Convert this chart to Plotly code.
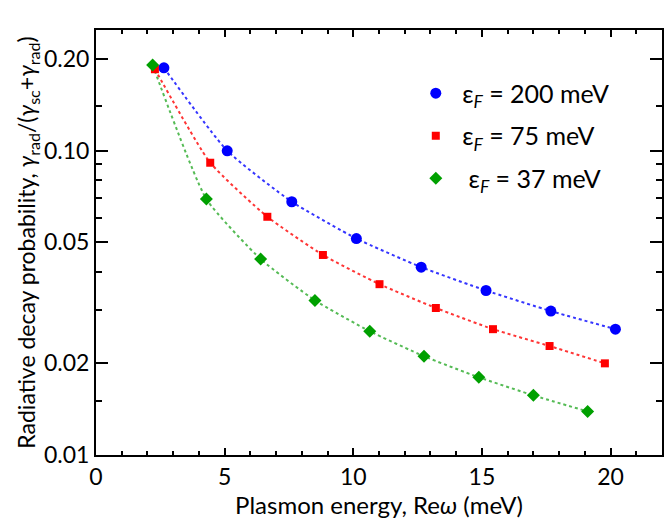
import plotly.graph_objects as go

# Data
x_200 = [2.64, 5.10, 7.61, 10.12, 12.64, 15.16, 17.68, 20.19]
y_200 = [0.187, 0.0998, 0.0679, 0.0514, 0.0414, 0.0347, 0.0297, 0.0259]

x_75 = [2.29, 4.44, 6.66, 8.82, 11.02, 13.21, 15.43, 17.63, 19.78]
y_75 = [0.185, 0.0912, 0.0606, 0.0454, 0.0364, 0.0304, 0.0259, 0.0228, 0.0200]

x_37 = [2.20, 4.29, 6.40, 8.51, 10.64, 12.75, 14.88, 17.00, 19.11]
y_37 = [0.191, 0.0693, 0.0440, 0.0322, 0.0255, 0.0211, 0.0180, 0.0157, 0.0139]

names = [" ε<sub><i>F</i></sub> = 200 meV", " ε<sub><i>F</i></sub> = 75 meV", "  ε<sub><i>F</i></sub> = 37 meV"]

y_tickvals = [0.01, 0.02, 0.05, 0.10, 0.20]
y_ticktext = ["0.01", "0.02", "0.05", "0.10", "0.20"]
y_minor = [0.015, 0.03, 0.04, 0.06, 0.07, 0.08, 0.09, 0.14]
x_tickvals = [0, 5, 10, 15, 20]

FONT = "Lato, 'Open Sans', sans-serif"

fig = go.Figure()
series = [
    (x_200, y_200, names[0], "#0000FF", "#3535FF", "circle", 11),
    (x_75, y_75, names[1], "#FF0000", "#FF3535", "square", 8),
    (x_37, y_37, names[2], "#00A000", "#55BB55", "diamond", 10),
]
# dotted connecting lines (no legend)
for i, (xs, ys, nm, mc, lc, sym, sz) in enumerate(series):
    fig.add_trace(go.Scatter(
        x=xs, y=ys, mode="lines", showlegend=False, hoverinfo="skip",
        line=dict(color=lc, width=2, dash="dot", shape="spline", smoothing=0.5),
    ))
# markers (legend entries)
for i, (xs, ys, nm, mc, lc, sym, sz) in enumerate(series):
    fig.add_trace(go.Scatter(
        x=xs, y=ys, name=nm, mode="markers", legendgroup=f"g{i}",
        marker=dict(color=mc, symbol=sym, size=sz, line=dict(width=0)),
    ))

fig.update_layout(
    width=666, height=526,
    margin=dict(l=96, r=2, t=30, b=71),
    paper_bgcolor="white", plot_bgcolor="white",
    font=dict(family=FONT, size=22, color="black"),
    legend=dict(
        x=0.565, y=0.905, xanchor="left", yanchor="top",
        bgcolor="rgba(0,0,0,0)", borderwidth=0,
        font=dict(family=FONT, size=25, color="black"),
        tracegroupgap=7, itemsizing="trace",
    ),
    showlegend=True,
)

fig.update_xaxes(
    range=[0, 22], tickmode="array", tickvals=x_tickvals,
    ticks="inside", ticklen=7, tickwidth=2, tickcolor="black",
    showline=True, linewidth=2, linecolor="black", mirror="ticks",
    showgrid=False, zeroline=False,
    tickfont=dict(family=FONT, size=23),
    minor=dict(dtick=1, ticks="inside", ticklen=4, tickwidth=2, tickcolor="black", showgrid=False),
    title=dict(text="Plasmon energy, Re<i>ω</i> (meV)", font=dict(family=FONT, size=24), standoff=9),
)
fig.update_yaxes(
    type="log", range=[-2, -0.604], tickmode="array",
    tickvals=y_tickvals, ticktext=y_ticktext,
    ticks="inside", ticklen=12, tickwidth=2, tickcolor="black",
    showline=True, linewidth=2, linecolor="black", mirror="ticks",
    showgrid=False, zeroline=False,
    tickfont=dict(family=FONT, size=23),
    minor=dict(tickmode="array", tickvals=y_minor, ticks="inside", ticklen=6, tickwidth=2,
               tickcolor="black", showgrid=False),
    title=dict(text="Radiative decay probability, <i>γ</i><sub>rad</sub>/(<i>γ</i><sub>sc</sub>+<i>γ</i><sub>rad</sub>)",
               font=dict(family=FONT, size=23), standoff=2),
)

fig.write_html("out.html")
